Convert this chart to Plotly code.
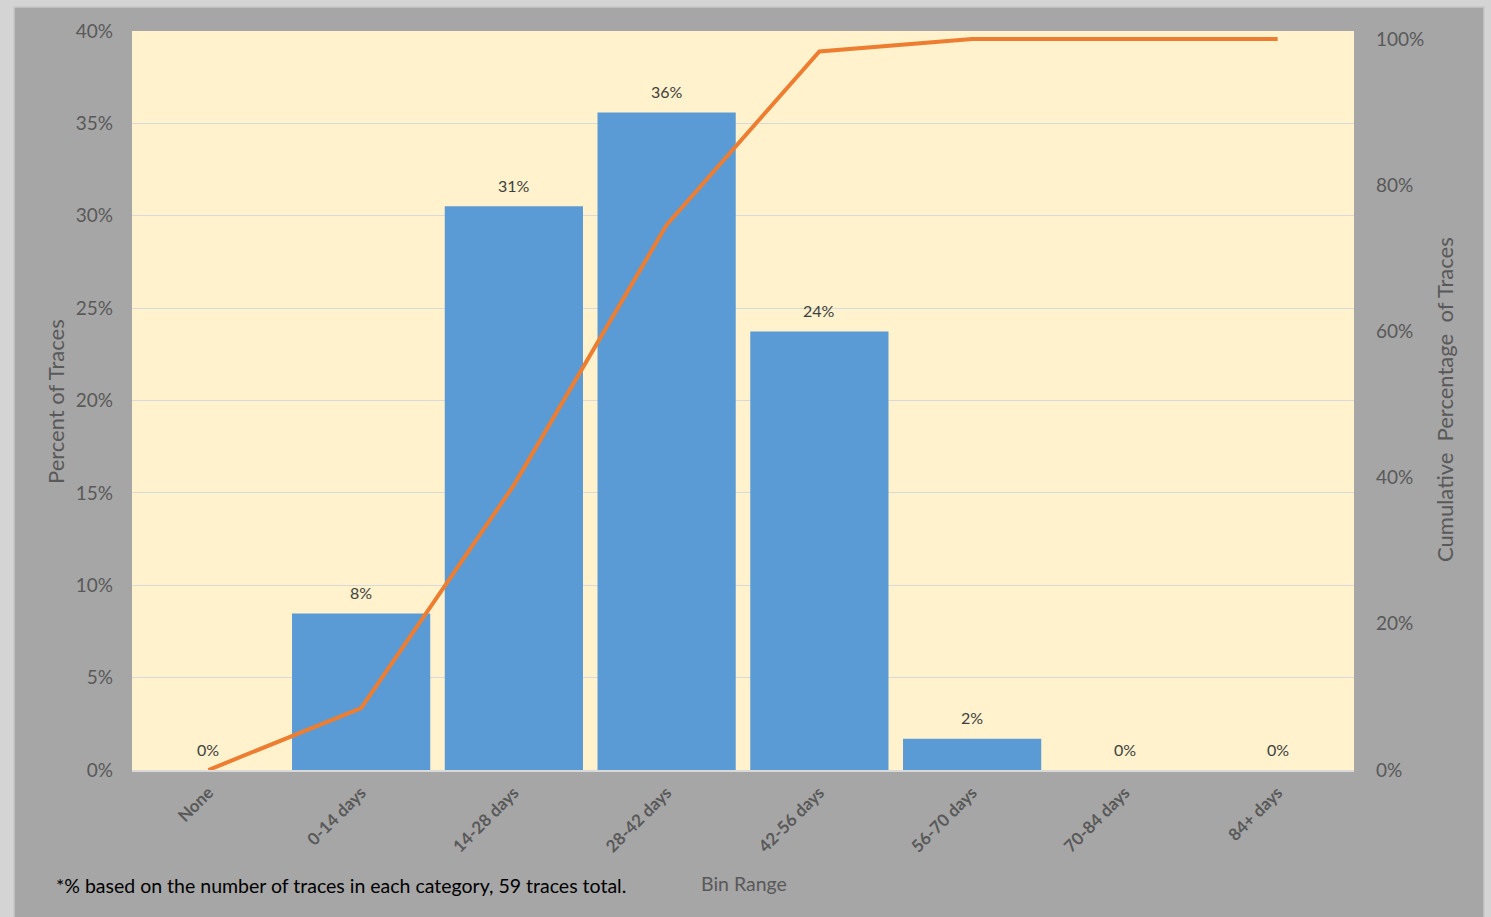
import plotly.graph_objects as go

categories = ["None", "0-14 days", "14-28 days", "28-42 days", "42-56 days", "56-70 days", "70-84 days", "84+ days"]
percent_of_traces = [0.0, 0.0847, 0.3051, 0.3559, 0.2373, 0.0169, 0.0, 0.0]
cumulative_pct = [0.0, 0.0847, 0.3898, 0.7458, 0.9831, 1.0, 1.0, 1.0]
left_ticks = [0, 0.05, 0.10, 0.15, 0.20, 0.25, 0.30, 0.35, 0.40]
right_ticks = [0, 0.2, 0.4, 0.6, 0.8, 1.0]

FONT = "Lato"
TICK_COLOR = "#595959"

fig = go.Figure()
fig.add_trace(go.Bar(
    x=categories, y=percent_of_traces,
    marker=dict(color="#5B9BD5", line=dict(width=0)),
    showlegend=False, yaxis="y", hoverinfo="x+y",
))
fig.add_trace(go.Scatter(
    x=categories, y=cumulative_pct, mode="lines",
    line=dict(color="#ED7D31", width=4),
    showlegend=False, yaxis="y2", cliponaxis=False,
))

W, H = 1491, 917
ml, mr, mt, mb = 132, 137, 31, 147
pw, ph = W - ml - mr, H - mt - mb

def px(x):
    return (x - ml) / pw

def py(y):
    return (H - mb - y) / ph

shapes = []
light = "#D4D4D4"
for x0, x1, y0, y1 in [(0, 14, 0, H), (1484, W, 0, H), (0, W, 0, 7)]:
    shapes.append(dict(type="rect", xref="paper", yref="paper",
                       x0=px(x0), x1=px(x1), y0=py(y1), y1=py(y0),
                       fillcolor=light, line=dict(width=0), layer="above"))
shapes.append(dict(type="rect", xref="paper", yref="paper",
                   x0=px(14), x1=px(1484), y0=py(H + 5), y1=py(7),
                   fillcolor="rgba(0,0,0,0)", line=dict(color="#C8C8C8", width=1.5), layer="above"))

annotations = [
    dict(x=c, y=v, xref="x", yref="y", text=f"{v * 100:.0f}%", showarrow=False,
         yshift=21, yanchor="middle", xanchor="center",
         font=dict(family=FONT, size=16, color="#404040"))
    for c, v in zip(categories, percent_of_traces)
]
annotations += [
    dict(text="Percent of Traces", xref="paper", yref="paper", x=px(55), y=py(402),
         textangle=-90, showarrow=False, font=dict(family=FONT, size=22, color=TICK_COLOR),
         xanchor="center", yanchor="middle"),
    dict(text="Cumulative  Percentage  of Traces", xref="paper", yref="paper", x=px(1445), y=py(400),
         textangle=-90, showarrow=False, font=dict(family=FONT, size=22, color=TICK_COLOR),
         xanchor="center", yanchor="middle"),
    dict(text="Bin Range", xref="paper", yref="paper", x=px(744), y=py(884),
         showarrow=False, font=dict(family=FONT, size=19.5, color=TICK_COLOR),
         xanchor="center", yanchor="middle"),
    dict(text="*% based on the number of traces in each category, 59 traces total.",
         xref="paper", yref="paper", x=px(54), y=py(885),
         showarrow=False, font=dict(family=FONT, size=19.5, color="#000000"),
         xanchor="left", yanchor="middle"),
]

fig.update_layout(
    width=W, height=H,
    margin=dict(l=ml, r=mr, t=mt, b=mb, autoexpand=False),
    paper_bgcolor="#A6A6A6",
    plot_bgcolor="#FFF2CC",
    font=dict(family=FONT, color=TICK_COLOR),
    bargap=0.095,
    xaxis=dict(
        type="category", tickangle=-45,
        tickfont=dict(family=FONT, size=17, color=TICK_COLOR, weight="bold"),
        showline=True, linecolor="#D9D9D9", linewidth=2,
        showgrid=False, ticks="", ticklabelstandoff=4,
    ),
    yaxis=dict(
        range=[0, 0.4], tickvals=left_ticks, tickformat=".0%",
        tickfont=dict(family=FONT, size=19, color=TICK_COLOR),
        showgrid=True, gridcolor="#D9D9D9", gridwidth=1,
        zeroline=False, showline=False, ticks="", ticklabelstandoff=18,
    ),
    yaxis2=dict(
        range=[0, 1.011], tickvals=right_ticks, tickformat=".0%",
        overlaying="y", side="right",
        tickfont=dict(family=FONT, size=19, color=TICK_COLOR),
        showgrid=False, zeroline=False, showline=False, ticks="", ticklabelstandoff=21,
    ),
    shapes=shapes,
    annotations=annotations,
)

fig.write_html(
    "out.html",
    config={"displayModeBar": False},
    post_script="document.body.style.margin='0';document.body.style.background='#D4D4D4';document.body.style.overflow='hidden';",
)
